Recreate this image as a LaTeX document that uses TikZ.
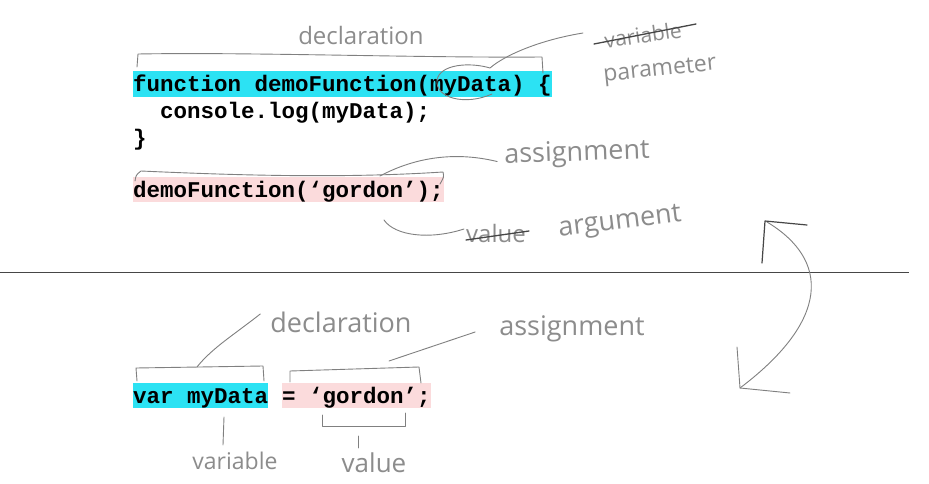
\documentclass[tikz,border=0pt]{standalone}
\usepackage{fontspec}
\newfontfamily\codefont{Liberation Mono}
\newfontfamily\handfont{Open Sans}
\usetikzlibrary{positioning}
\definecolor{cyanhl}{RGB}{44,226,243}
\definecolor{pinkhl}{RGB}{251,219,220}
\definecolor{ink}{RGB}{128,128,128}
\definecolor{handink}{RGB}{140,140,140}
\definecolor{darkink}{RGB}{70,70,70}
\begin{document}
\begin{tikzpicture}[x=1pt, y=-1pt,
    code/.style={font=\codefont\bfseries\fontsize{22.5}{27}\selectfont, anchor=base west, inner xsep=0pt, inner ysep=0.5pt, text height=20pt, text depth=4.5pt},
    hand/.style={font=\handfont\fontsize{#1}{#1}\selectfont, text=handink, inner sep=0pt},
    stroke/.style={draw=ink, line width=0.9pt, line cap=round, line join=round},
    strike/.style={draw=darkink, line width=1.3pt, line cap=round}]
    \fill[white] (0,0) rectangle (929,484);
    \useasboundingbox (0,0) rectangle (929,484);
    \node (fn) [code, fill=cyanhl] at (133, 92) {function demoFunction(myData) \{};
    \node (body) [code] at (160, 119) {console.log(myData);};
    \node (close) [code] at (133, 146) {\}};
    \node (call) [code, fill=pinkhl] at (133, 197) {demoFunction(‘gordon’);};
    \node (var) [code, fill=cyanhl] at (133, 403) {var myData};
    \node (asg) [code, fill=pinkhl] at ([xshift=13.5pt]var.base east) {= ‘gordon’;};
    \node (decltop) [hand=24] at (361, 36) {declaration};
    \node (vartop) [hand=21, rotate=8] at (643, 35) {variable};
    \node (param) [hand=23, rotate=6] at (660, 71) {parameter};
    \node (asgtop) [hand=27, rotate=2] at (577, 154) {assignment};
    \node (valtop) [hand=24] at (496, 233) {value};
    \node (argtop) [hand=27, rotate=7] at (620, 223) {argument};
    \node (declbot) [hand=27] at (341, 322) {declaration};
    \node (asgbot) [hand=27] at (572, 329) {assignment};
    \node (varbot) [hand=23] at (235, 461) {variable};
    \node (valbot) [hand=26] at (374, 463) {value};
    \coordinate (loop) at (583, 33);
    \coordinate (callmid) at (380, 176);
    \coordinate (valmid) at (384, 220);
    \coordinate (varmid) at (197, 367);
    \coordinate (asgmid) at (389, 361);
    % brackets
    \draw[stroke] (137, 67) -- (138, 54) .. controls (250, 52) and (420, 58) .. (542, 57) -- (543, 73);
    \draw[stroke] (135, 181) .. controls (136, 175) .. (141, 171) .. controls (250, 176) and (350, 178) .. (443, 172) .. controls (444, 177) .. (440, 184);
    \draw[stroke] (137, 381) -- (136, 368) -- (263, 366) -- (264, 381);
    \draw[stroke] (290, 382) -- (290, 371) -- (419, 367) -- (421, 383);
    \draw[stroke] (322, 415) -- (322, 426) -- (405, 426) -- (405, 413);
    \draw[stroke] (224, 417) -- (223, 445);
    \draw[stroke] (358, 436) -- (358, 448);
    % pointers
    \draw[stroke] (loop) .. controls (540, 40) and (505, 55) .. (490, 68) .. controls (470, 62) and (440, 64) .. (437, 80) .. controls (435, 98) and (465, 106) .. (492, 94);
    \draw[stroke] (callmid) .. controls (410, 160) and (450, 150) .. ([xshift=-7pt, yshift=-5pt]asgtop.west);
    \draw[stroke] (valmid) .. controls (395, 236) and (430, 240) .. ([xshift=-2pt, yshift=4pt]valtop.west);
    \draw[stroke] (varmid) .. controls (212, 348) and (235, 334) .. ([xshift=-10pt, yshift=8pt]declbot.west);
    \draw[stroke] (asgmid) -- ([xshift=-24pt, yshift=-3pt]asgbot.west);
    % struck words
    \draw[strike] (594, 44) -- (696, 24);
    \draw[strike] (466, 240) -- (529, 231);
    \draw[draw=darkink, line width=1pt] (0, 272) -- (909, 272);
    % swap arrow
    \draw[stroke] (767, 222) .. controls (830, 260) and (830, 320) .. (740, 388);
    \draw[stroke, draw=darkink, line width=1.2pt] (762, 263) -- (765, 221) -- (807, 225);
    \draw[stroke] (737, 347) -- (740, 388) -- (790, 393);
\end{tikzpicture}
\end{document}
